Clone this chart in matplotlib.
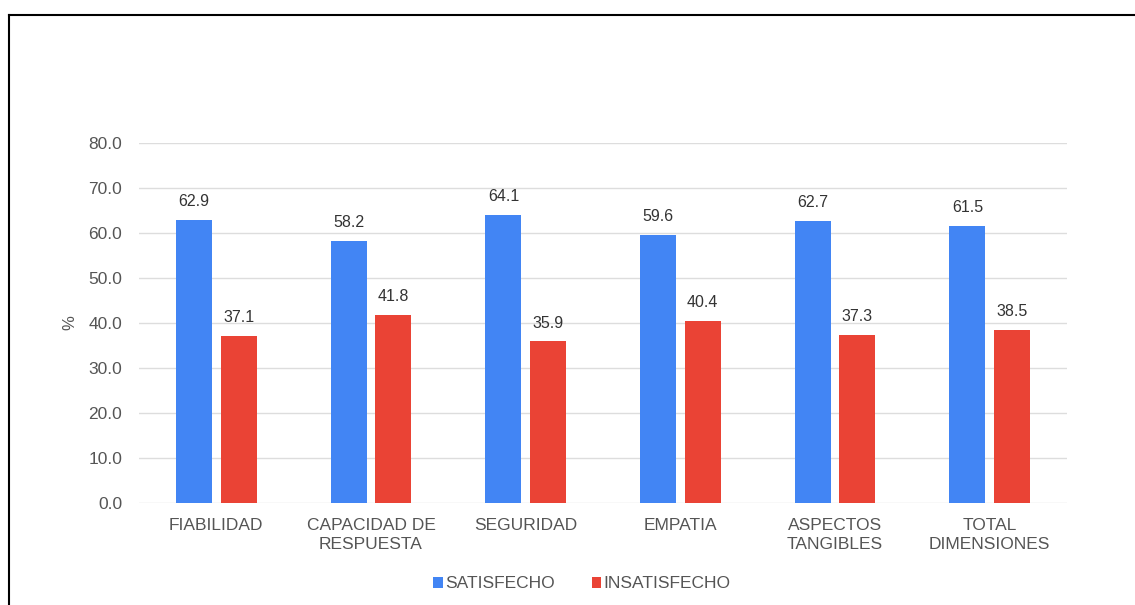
import matplotlib.pyplot as plt
import numpy as np
from matplotlib.lines import Line2D

categories = ['FIABILIDAD', 'CAPACIDAD DE\nRESPUESTA', 'SEGURIDAD', 'EMPATIA',
              'ASPECTOS\nTANGIBLES', 'TOTAL\nDIMENSIONES']
satisfecho = [62.9, 58.2, 64.1, 59.6, 62.7, 61.5]
insatisfecho = [37.1, 41.8, 35.9, 40.4, 37.3, 38.5]
yticks = [0, 10, 20, 30, 40, 50, 60, 70, 80]

blue = '#4285F4'
red = '#EA4335'
grey = '#555555'

plt.rcParams['font.family'] = ['Liberation Sans', 'DejaVu Sans']

fig = plt.figure(figsize=(11.35, 6.05), dpi=100)
ax = fig.add_axes([139 / 1135, 1 - 503 / 605, 928 / 1135, 360 / 605])

# outer frame: only the top and left edges show in the original
fx = 8.5 / 1135
fy = 1 - 14.5 / 605
fig.add_artist(Line2D([fx, 1.0], [fy, fy], transform=fig.transFigure, color='black', lw=1.5))
fig.add_artist(Line2D([fx, fx], [0, fy], transform=fig.transFigure, color='black', lw=1.5))

x = np.arange(len(categories))
w = 0.232
off = 0.144
b1 = ax.bar(x - off, satisfecho, w, color=blue, label='SATISFECHO')
b2 = ax.bar(x + off, insatisfecho, w, color=red, label='INSATISFECHO')

for bars, vals in ((b1, satisfecho), (b2, insatisfecho)):
    for rect, v in zip(bars, vals):
        ax.text(rect.get_x() + rect.get_width() / 2, v + 2.4, f'{v:.1f}',
                ha='center', va='bottom', fontsize=11.5, color='#333333')

ax.set_xlim(-0.5, len(categories) - 0.5)
ax.set_ylim(0, 80)
ax.set_yticks(yticks)
ax.set_yticklabels([f'{t:.1f}' for t in yticks])
ax.set_xticks(x)
ax.set_xticklabels(categories, linespacing=1.3)
ax.tick_params(axis='both', length=0, colors=grey, labelsize=12.5)
ax.tick_params(axis='y', pad=12)
ax.tick_params(axis='x', pad=11)
for s in ax.spines.values():
    s.set_visible(False)
ax.grid(axis='y', color='#dddddd', linewidth=1)
ax.set_axisbelow(True)
ax.set_ylabel('%', color=grey, fontsize=12, labelpad=8)

fig.legend(handles=[b1, b2], loc='center', bbox_to_anchor=(582 / 1135, 1 - 584 / 605),
           ncol=2, frameon=False, fontsize=12.5, handlelength=0.55, handleheight=0.55,
           handletextpad=0.15, columnspacing=2.1, labelcolor=grey)

fig.savefig('out.png', dpi=100)
